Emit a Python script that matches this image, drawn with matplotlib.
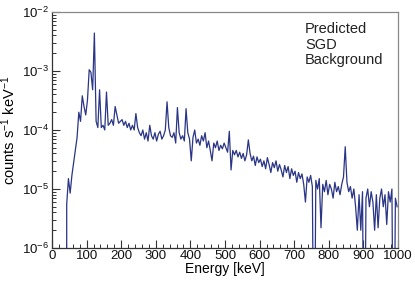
import numpy as np
import matplotlib
matplotlib.use("Agg")
import matplotlib.pyplot as plt
from matplotlib.ticker import MultipleLocator, LogLocator, LogFormatterSciNotation, NullFormatter

plt.rcParams["font.family"] = ["Liberation Sans", "DejaVu Sans"]
plt.rcParams["mathtext.fontset"] = "custom"
plt.rcParams["mathtext.rm"] = "Liberation Sans"
plt.rcParams["mathtext.it"] = "Liberation Sans:italic"

# 5 keV bins, lower edges 0 ... 995 keV
bin_width = 5
# rate per bin in units of 1e-5 counts s^-1 keV^-1
rate_1e5 = [
    0, 0, 0, 0, 0, 0, 0, 0, 0.55, 1.5,
    0.85, 1.7, 2.8, 4.5, 7.5, 20, 14, 38, 25, 18,
    32, 105, 95, 48, 440, 14, 11, 48, 11, 12,
    10, 44, 12, 13, 15, 12, 25, 18, 13, 14,
    15, 12, 14, 11, 13, 10, 12, 10, 19, 11,
    9, 8, 10, 7, 9, 6.5, 12, 8, 7, 9,
    6.5, 8.5, 9.5, 7, 8, 10, 30, 11, 8, 7.5,
    9, 6, 24, 9, 7, 8, 6.5, 23, 9, 7,
    3, 7.5, 10, 6, 7, 5.5, 8, 6.5, 9, 5,
    6.5, 4.5, 3.0, 6, 5, 6.5, 4.5, 5.5, 4.8, 6,
    5, 4.2, 9.5, 2.1, 4.5, 3.8, 4.5, 3.5, 4.2, 3.3,
    4, 3, 3.8, 6.8, 4, 3, 3.6, 2.5, 3.5, 2.8,
    3.2, 2.4, 3.0, 2.2, 3.4, 2.6, 1.9, 2.8, 2.3, 3.0,
    2.0, 2.6, 2.1, 1.6, 2.5, 1.9, 2.4, 1.5, 2.2, 1.7,
    2.0, 1.3, 1.9, 1.5, 1.8, 1.2, 0.6, 1.6, 1.3, 1.7,
    1.1, 0, 1.4, 1.0, 1.5, 0.22, 1.2, 0.9, 1.4, 0.8,
    1.2, 1.0, 0.7, 1.3, 0.9, 1.1, 0.8, 1.2, 1.6, 5.2,
    1.3, 0.9, 1.1, 0.7, 1.0, 0.5, 0.2, 0.8, 0.2, 0.9,
    0, 0.7, 1.0, 0.5, 0.9, 0.6, 0.2, 0.8, 0.22, 0.7,
    1.0, 0.5, 0.8, 0.25, 0.9, 0.6, 1.0, 0, 0.7, 0.5,
]

rate = np.array(rate_1e5) * 1e-5
centers = np.arange(len(rate)) * bin_width + bin_width / 2

# start where the spectrum begins, empty bins drop to the floor
first = np.nonzero(rate)[0][0]
r = rate[first:].copy()
r[r <= 0] = 1e-9
e = centers[first:]
# leading edge rises from the floor
e = np.concatenate([[e[0]], e])
r = np.concatenate([[1e-9], r])

fig = plt.figure(figsize=(4.15, 2.83), dpi=100)
ax = fig.add_axes([0.1253, 0.1237, 0.8337, 0.834])

ax.plot(e, r, color="#2a3585", lw=0.9)

ax.set_yscale("log")
ax.set_xlim(0, 1000)
ax.set_ylim(1e-6, 1e-2)

ax.xaxis.set_major_locator(MultipleLocator(100))
ax.xaxis.set_minor_locator(MultipleLocator(20))
ax.yaxis.set_major_locator(LogLocator(base=10, numticks=10))
ax.yaxis.set_minor_locator(LogLocator(base=10, subs=np.arange(2, 10), numticks=20))
ax.yaxis.set_major_formatter(LogFormatterSciNotation())
ax.yaxis.set_minor_formatter(NullFormatter())

ax.tick_params(which="both", direction="in", top=False, right=False,
               labelsize=9.5, color="#333333", labelcolor="#111111")
ax.tick_params(axis="x", pad=1.5)
ax.tick_params(axis="y", pad=2)
ax.tick_params(which="major", length=6, width=0.8)
ax.tick_params(which="minor", length=3, width=0.7)

for side in ["left", "bottom"]:
    ax.spines[side].set_color("#333333")
    ax.spines[side].set_linewidth(0.9)
for side in ["top", "right"]:
    ax.spines[side].set_color("#888888")
    ax.spines[side].set_linewidth(0.9)

ax.set_xlabel("Energy [keV]", fontsize=10, labelpad=0)
ax.set_ylabel("counts s$^{-1}$ keV$^{-1}$", fontsize=10.5, labelpad=3)

ax.text(0.731, 0.958, "Predicted\nSGD\nBackground", transform=ax.transAxes,
        ha="left", va="top", fontsize=10.5, linespacing=1.15, color="#222222")

fig.savefig("out.png", dpi=100)
